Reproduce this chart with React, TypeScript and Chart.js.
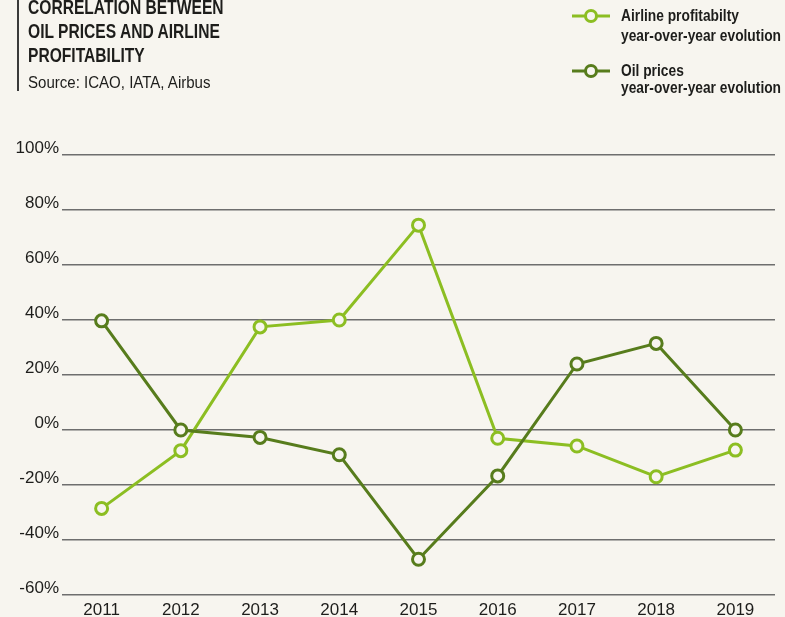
import React, { useEffect, useRef } from "react";
import { Chart, registerables } from "chart.js";

Chart.register(...registerables);

const years = ["2011", "2012", "2013", "2014", "2015", "2016", "2017", "2018", "2019"];
const airlineProfitability = [-28.5, -7.5, 37.5, 40, 74.5, -3, -5.8, -17, -7.3];
const oilPrices = [39.7, 0, -2.7, -9, -47, -16.7, 24, 31.5, 0];
const yMin = -60;
const yMax = 100;
const yStep = 20;

const BG = "#f7f5ef";
const LIGHT = "#8cbe22";
const DARK = "#577c1c";
const TEXT = "#1d1d1b";

export default function App() {
  const ref = useRef<HTMLCanvasElement | null>(null);

  useEffect(() => {
    document.body.style.margin = "0";
    document.body.style.background = BG;
    const canvas = ref.current;
    if (!canvas) return;
    const chart = new Chart(canvas, {
      type: "line",
      data: {
        labels: years,
        datasets: [
          {
            label: "Oil prices year-over-year evolution",
            data: oilPrices,
            borderColor: DARK,
            backgroundColor: BG,
            borderWidth: 3,
            pointRadius: 6,
            pointBorderWidth: 3,
            pointBackgroundColor: BG,
            pointBorderColor: DARK,
            tension: 0,
          },
          {
            label: "Airline profitabilty year-over-year evolution",
            data: airlineProfitability,
            borderColor: LIGHT,
            backgroundColor: BG,
            borderWidth: 3,
            pointRadius: 6,
            pointBorderWidth: 3,
            pointBackgroundColor: BG,
            pointBorderColor: LIGHT,
            tension: 0,
          },
        ],
      },
      options: {
        animation: false,
        responsive: false,
        devicePixelRatio: 1,
        layout: { padding: { top: 155, right: 10, left: 0, bottom: 0 } },
        plugins: {
          legend: { display: false },
          tooltip: { enabled: false },
          title: { display: false },
        },
        scales: {
          x: {
            type: "category",
            offset: true,
            grid: { display: false, drawTicks: false },
            border: { display: false },
            ticks: {
              padding: 5,
              color: TEXT,
              font: { family: "'Liberation Sans', Arial, sans-serif", size: 17 },
              maxRotation: 0,
              autoSkip: false,
            },
            afterFit: (s: any) => {
              s.height = 22;
            },
          },
          y: {
            min: yMin,
            max: yMax,
            grid: { color: "#6e6e6e", lineWidth: 1.5, drawTicks: false },
            border: { display: false },
            ticks: {
              stepSize: yStep,
              padding: 3,
              labelOffset: -7,
              color: TEXT,
              font: { family: "'Liberation Sans', Arial, sans-serif", size: 17 },
              callback: (v: any) => `${v}%`,
            },
            afterFit: (s: any) => {
              s.width = 62;
            },
          },
        },
      },
    });
    return () => chart.destroy();
  }, []);

  const bold: React.CSSProperties = {
    fontFamily: "'Liberation Sans', Arial, sans-serif",
    fontWeight: 700,
    color: TEXT,
    transformOrigin: "left top",
    whiteSpace: "nowrap",
    position: "absolute",
  };

  return (
    <div style={{ position: "relative", width: 785, height: 617, background: BG, overflow: "hidden" }}>
      <canvas ref={ref} width={785} height={617} style={{ position: "absolute", left: 0, top: 0, width: 785, height: 617 }} />
      <div style={{ position: "absolute", left: 17, top: 0, width: 2, height: 91, background: "#3a3a3a" }} />
      <div style={{ ...bold, left: 28, top: -5, fontSize: 19.5, lineHeight: "24px", transform: "scaleX(0.8)" }}>
        CORRELATION BETWEEN
        <br />
        OIL PRICES AND AIRLINE
        <br />
        PROFITABILITY
      </div>
      <div
        style={{
          position: "absolute",
          left: 28,
          top: 74,
          fontFamily: "'Liberation Sans', Arial, sans-serif",
          fontSize: 16,
          lineHeight: "18px",
          color: TEXT,
          whiteSpace: "nowrap",
          transform: "scaleX(0.94)",
          transformOrigin: "left top",
        }}
      >
        Source: ICAO, IATA, Airbus
      </div>
      <svg width={785} height={100} style={{ position: "absolute", left: 0, top: 0 }}>
        <line x1={572} y1={16} x2={610} y2={16} stroke={LIGHT} strokeWidth={3} />
        <circle cx={591} cy={16} r={5.5} fill={BG} stroke={LIGHT} strokeWidth={3} />
        <line x1={572} y1={71} x2={610} y2={71} stroke={DARK} strokeWidth={3} />
        <circle cx={591} cy={71} r={5.5} fill={BG} stroke={DARK} strokeWidth={3} />
      </svg>
      <div style={{ ...bold, left: 621, top: 6, fontSize: 16.5, lineHeight: "19.5px", transform: "scaleX(0.835)" }}>
        Airline profitabilty
        <br />
        year-over-year evolution
      </div>
      <div style={{ ...bold, left: 621, top: 62, fontSize: 16.5, lineHeight: "16.5px", transform: "scaleX(0.835)" }}>
        Oil prices
        <br />
        year-over-year evolution
      </div>
    </div>
  );
}
